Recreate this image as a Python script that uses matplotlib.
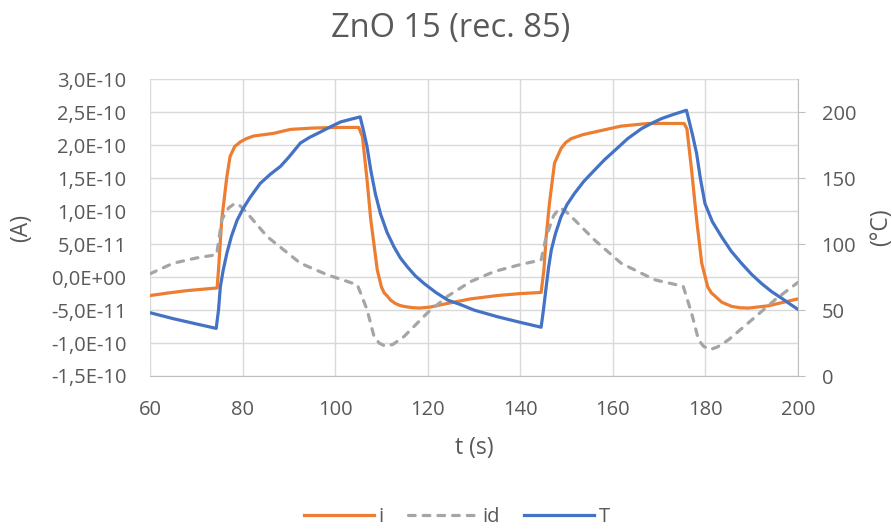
import matplotlib
matplotlib.use("Agg")
import matplotlib.pyplot as plt
from matplotlib.ticker import FuncFormatter, MultipleLocator

# ---- data ----
t_i = [60, 64, 68, 72, 74.5, 74.8, 75.5, 76.6, 77.3, 78.3, 79.5, 80.8, 82.4, 86.7, 90.3, 95, 100, 105.1,
       105.9, 106.9, 107.7, 109.1, 110, 110.6, 111.3, 112, 113, 114, 114.9, 116.5, 118.2, 120.5, 122.8,
       129.3, 135, 140, 144.5,
       145.1, 145.6, 146.3, 147.4, 148.8, 149.8, 151, 153.5, 156, 161.8, 167.6, 175.4,
       176.0, 177, 178.1, 179.2, 180.5, 181.3, 182.1, 183.5, 185.7, 187.5, 189.3, 193.6, 200]
i_vals = [-2.8, -2.4, -2.05, -1.8, -1.65, 1.1, 8.7, 15.2, 18.3, 19.8, 20.5, 21.0, 21.4, 21.8, 22.4, 22.6, 22.7, 22.7,
          21.3, 14.7, 8.7, 1.1, -1.5, -2.4, -2.9, -3.5, -4.0, -4.3, -4.45, -4.62, -4.7, -4.55, -4.2,
          -3.3, -2.8, -2.5, -2.33,
          1.1, 6.15, 11.2, 17.3, 19.5, 20.4, 21.0, 21.6, 22.0, 22.9, 23.3, 23.3,
          22.5, 16.3, 8.7, 2.1, -1.5, -2.4, -2.9, -3.8, -4.45, -4.65, -4.7, -4.35, -3.3]  # x 1e-11 A

t_id = [60, 65, 70, 74.4, 75.5, 77, 78.4, 79.5, 81, 85.3, 92.5, 98.3, 104.8, 106.9, 108.4, 109.5, 110.9, 112.5,
        114.9, 119.9, 124.3, 129.3, 134.4, 140, 144.5, 145.6, 147.2, 148.5, 149.6, 151, 156, 161.8, 169,
        175.2, 177, 178.5, 179.6, 181, 182.6, 185, 190, 195.1, 200]
id_vals = [0.5, 2.1, 2.9, 3.4, 8.7, 10.5, 11.2, 10.8, 9.7, 6.15, 2.1, 0.35, -1.17, -4.95, -9.0, -10.0, -10.5, -10.2,
           -9.0, -5.45, -2.9, -0.67, 0.85, 1.9, 2.6, 6.15, 9.3, 10.5, 10.1, 9.2, 5.65, 2.1, -0.4,
           -1.4, -5.45, -9.5, -10.5, -11.0, -10.6, -9.5, -6.5, -3.4, -0.8]  # x 1e-11 A

t_T = [60, 65, 70, 74.3, 74.8, 75.2, 75.8, 76.6, 77.6, 78.8, 80.2, 81.7, 83.8, 86, 88.2, 90, 92.5, 94.5,
       96.8, 99, 101.2, 103.5, 105.4,
       106.2, 106.9, 107.7, 108.7, 109.8, 111.2, 112.7, 114.1, 115.6, 117.3, 119.2, 121.7, 124.3, 127.2,
       130, 135, 140.2, 144.5,
       145.0, 145.6, 146.1, 146.7, 147.6, 148.8, 150.1, 151.7, 153.7, 156, 158.2, 160.4, 163.2, 166.2,
       168.3, 170.5, 173.2, 175.9,
       176.5, 177.2, 178.1, 178.9, 179.9, 181.5, 183.5, 185.6, 187.8, 190, 192.1, 194.3, 196.5, 198.3, 200]
T_vals = [48, 43.5, 39.5, 36.1, 50, 67.7, 80, 93, 106, 118, 127.5, 135.8, 146, 153, 159, 166, 176.7, 181,
          185, 189, 192.7, 194.8, 196.5,
          185, 173.7, 156, 138, 123, 109, 98, 89.5, 82.8, 76, 70.2, 63.5, 57.6, 54,
          50, 45, 40.5, 37,
          50, 67.7, 82, 95.5, 108, 120.7, 130, 138.4, 147.5, 156, 164, 171, 180, 187.6,
          191.5, 195.2, 198.5, 201.5,
          193, 183, 168.7, 150, 130.8, 117, 105.5, 94.5, 85.4, 77, 70.2, 64, 58.9, 54.5, 50.5]

title = "ZnO 15 (rec. 85)"
labels = ["i", "id", "T"]

# ---- style ----
plt.rcParams['font.family'] = ['Open Sans', 'DejaVu Sans']
txt = '#595959'
grid = '#D9D9D9'
c_i, c_id, c_T = '#ED7D31', '#A5A5A5', '#4472C4'

fig = plt.figure(figsize=(8.92, 5.31), dpi=100)
ax = fig.add_axes([150/892, 1-376/531, (798-150)/892, (376-79.3)/531])
ax2 = ax.twinx()

l1, = ax.plot(t_i, [v*1e-11 for v in i_vals], color=c_i, lw=2.3, label=labels[0])
l2, = ax.plot(t_id, [v*1e-11 for v in id_vals], color=c_id, lw=2.3, ls=(0, (2.1, 2.5)),
              dash_capstyle='round', label=labels[1])
l3, = ax2.plot(t_T, T_vals, color=c_T, lw=2.3, label=labels[2])

ax.set_xlim(60, 200)
ax.set_ylim(-1.5e-10, 3.0e-10)
ax2.set_ylim(0, 225)
ax.xaxis.set_major_locator(MultipleLocator(20))
ax.yaxis.set_major_locator(MultipleLocator(5e-11))
ax2.yaxis.set_major_locator(MultipleLocator(50))
ax.yaxis.set_major_formatter(FuncFormatter(lambda v, p: f"{v:.1E}".replace('.', ',')))
ax.grid(True, color=grid, lw=1.0)
ax.set_axisbelow(True)

for s in ['top', 'right', 'left']:
    ax.spines[s].set_visible(False)
ax.spines['bottom'].set_color('#BFBFBF')
for s in ['top', 'left', 'bottom']:
    ax2.spines[s].set_visible(False)
ax2.spines['right'].set_color('#BFBFBF')

ax.tick_params(axis='y', length=0, labelsize=14.5, labelcolor=txt, pad=17)
ax.tick_params(axis='x', length=0, labelsize=14.5, labelcolor=txt, pad=17)
ax2.tick_params(axis='y', length=5, color='#BFBFBF', labelsize=14.5, labelcolor=txt, pad=12)

ax.set_xlabel("t (s)", fontsize=16.5, color=txt, labelpad=12)
ax.set_ylabel("(A)", fontsize=16.5, color=txt, labelpad=13)
ax2.set_ylabel("(°C)", fontsize=16.5, color=txt, rotation=90, labelpad=9)

fig.text(0.505, 1 - 29/531, title, ha='center', va='center', fontsize=23.5, color=txt)

fig.legend(handles=[l1, l2, l3], loc='center', bbox_to_anchor=(0.512, 1 - 517/531), ncol=3,
           frameon=False, fontsize=14.5, labelcolor=txt, handlelength=3.5, handletextpad=0.2,
           columnspacing=1.2)

fig.savefig("out.png", dpi=100)
